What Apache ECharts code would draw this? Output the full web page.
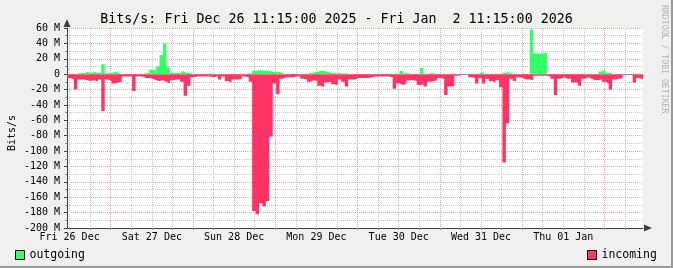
<!DOCTYPE html>
<html><head><meta charset="utf-8">
<script src="https://cdn.jsdelivr.net/npm/echarts@6/dist/echarts.min.js"></script>
<style>html,body{margin:0;padding:0;background:#f0f0f0}#c{width:673px;height:268px}</style>
</head><body><div id="c"></div>
<script>
// hours counted from Fri 26 Dec 00:00; graph starts 11:15
const startHour = 11.25;
const endHour = 179.25;
const stepHours = 1;
const dayLabels = ['Fri 26 Dec','Sat 27 Dec','Sun 28 Dec','Mon 29 Dec','Tue 30 Dec','Wed 31 Dec','Thu 01 Jan'];
const labelHours = [12, 36, 60, 84, 108, 132, 156];
// grid every 6 hours starting at 12:00 Dec 26 (every 4th one is a midnight)
const gridHours = [12,18,24,30,36,42,48,54,60,66,72,78,84,90,96,102,108,114,120,126,132,138,144,150,156,162,168,174];
const yMin = -200, yMax = 60, yStep = 20;

// Mbit/s, one value per hour
const outgoing = [
 0, 0, 0.5, 1.3, 1.3, 3, 1.3, 3, 1.5, 1.5,
 13, 1.3, 1.5, 3, 2, 0, 0, 0, 0, 0,
 0, 0, 1.3, 1.3, 6, 4, 10, 25, 40, 9,
 1.5, 1.5, 1.5, 4, 1.5, 1.5, 0, 0, 0, 0,
 0, 1.5, 0, 0.5, 0, 0.5, 0, 0, 0, 0,
 0.5, 0, 1, 1.3, 4, 5, 5, 4.5, 4, 3.5,
 2, 3, 1, 0, 0, 0, 0, 0, 0.5, 1,
 1.3, 2, 3, 4, 4, 3, 1.5, 1.3, 1.3, 1.3,
 1, 0.5, 0, 0, 0, 0, 0, 0, 0, 0,
 0, 0, 0, 0, 0, 1, 0.5, 4, 1.3, 1,
 0, 0, 0, 8, 0.5, 1.3, 1.3, 0, 0, 1,
 0, 0, 0, 0, 0, 1, 0, 0, 0, 0,
 2.5, 0, 0, 0, 1, 0, 1, 2, 2, 0.5,
 0.5, 0, 0, 0, 0, 58, 27, 27, 27, 28,
 0, 0, 0, 0, 0, 0, 0, 0, 0, 0,
 0.5, 0.5, 0.5, 0, 0, 3.5, 6, 2, 0.5, 0,
 0, 0, 0, 0, 0, 0, 1, 0
];
const incoming = [
 -5, -7, -20, -7, -7, -8, -9, -8, -10, -7,
 -48, -7, -9, -12, -11, -10, -3, -3, -3, -22,
 -3, -3, -5, -5, -6, -8, -9, -8, -10, -12,
 -8, -7, -7, -10, -28, -15, -4, -3, -3, -3,
 -3, -3, -4, -3, -7, -3, -9, -11, -7, -7,
 -6, -3, -4, -10, -178, -182, -168, -172, -165, -81,
 -12, -26, -6, -4, -4, -4, -3, -3, -6, -7,
 -10, -8, -9, -15, -17, -11, -10, -13, -14, -7,
 -10, -16, -7, -7, -5, -5, -5, -5, -4, -3,
 -3, -3, -3, -3, -4, -19, -12, -14, -12, -8,
 -8, -9, -14, -13, -16, -10, -9, -8, -5, -6,
 -27, -16, -15, -2, -1, -1, -1, -4, -5, -12,
 -5, -12, -6, -9, -11, -8, -17, -115, -64, -6,
 -9, -4, -5, -7, -7, -8, -2, -2, -2, -2,
 -3, -6, -27, -6, -4, -6, -6, -11, -11, -15,
 -6, -4, -6, -8, -8, -7, -10, -12, -20, -7,
 -6, -6, -1, -1, -1, -11, -5, -7
];

const MONO = "'DejaVu Sans Mono', monospace";
const GREEN = '#33ff66', RED = '#ff3366';
const MINOR = '#c8c8c8', MAJOR = '#f4a0a0';

// step points: each value holds from its hour until the next; last value closes at endHour
function stepData(vals) {
  const pts = vals.map((v, i) => [startHour + i * stepHours, v]);
  pts.push([startHour + vals.length * stepHours, vals[vals.length - 1]]);
  return pts;
}
function areaSeries(name, vals, color) {
  return {name, type: 'line', step: 'end', symbol: 'none', showSymbol: false, silent: true,
          itemStyle: {color}, lineStyle: {width: 0, color}, areaStyle: {color, opacity: 1, origin: 0},
          data: stepData(vals)};
}

const chart = echarts.init(document.getElementById('c'), null, {renderer: 'canvas', width: 673, height: 268});
chart.setOption({
  animation: false,
  backgroundColor: '#f0f0f0',
  title: {text: 'Bits/s: Fri Dec 26 11:15:00 2025 - Fri Jan  2 11:15:00 2026', left: 'center', top: 13, padding: 0,
          textStyle: {fontFamily: MONO, fontSize: 13.3, fontWeight: 'normal', color: '#000'}},
  grid: {left: 67, right: 30, top: 28, bottom: 40, show: true, backgroundColor: '#ffffff', borderWidth: 0,
         containLabel: false, outerBoundsMode: 'none'},
  legend: [
    {data: [{name: 'outgoing', icon: 'rect', itemStyle: {color: GREEN, borderColor: '#000', borderWidth: 1}}], left: 15, top: 249,
     itemWidth: 9, itemHeight: 9, padding: 0, selectedMode: false, textStyle: {fontFamily: MONO, fontSize: 11.5, color: '#000'}},
    {data: [{name: 'incoming', icon: 'rect', itemStyle: {color: RED, borderColor: '#000', borderWidth: 1}}], left: 587, top: 249,
     itemWidth: 9, itemHeight: 9, padding: 0, selectedMode: false, textStyle: {fontFamily: MONO, fontSize: 11.5, color: '#000'}}
  ],
  xAxis: {type: 'value', min: startHour, max: endHour, position: 'bottom',
     axisLine: {onZero: false, lineStyle: {color: '#404040'}, symbol: ['none', 'triangle'], symbolSize: [7, 8], symbolOffset: [0, 5]},
     axisTick: {show: true, customValues: gridHours, length: 2, lineStyle: {color: '#909090'}},
     axisLabel: {customValues: labelHours, formatter: v => dayLabels[labelHours.indexOf(Math.round(v))] || '',
                 fontFamily: MONO, fontSize: 10, color: '#000', margin: 4},
     splitLine: {show: true, lineStyle: {color: [MINOR, MINOR, MAJOR, MINOR], type: [1, 1]}}},
  yAxis: {type: 'value', min: yMin, max: yMax, interval: yStep,
    name: 'Bits/s', nameLocation: 'middle', nameGap: 50, nameMoveOverlap: false,
    nameTextStyle: {fontFamily: MONO, fontSize: 10, color: '#000', padding: [0, 10, 0, 0]},
    axisLine: {show: true, onZero: false, lineStyle: {color: '#404040'}, symbol: ['none', 'triangle'], symbolSize: [7, 8], symbolOffset: [0, 5]},
    axisTick: {show: true, length: 3, lineStyle: {color: '#404040'}},
    minorTick: {show: true, splitNumber: 2, length: 2, lineStyle: {color: '#909090'}},
    axisLabel: {formatter: v => v === 0 ? '0' : v + ' M', fontFamily: MONO, fontSize: 10, color: '#000', margin: 7},
    splitLine: {show: true, lineStyle: {color: MAJOR, type: [1, 1]}},
    minorSplitLine: {show: true, lineStyle: {color: MINOR, type: [1, 1]}}},
  series: [
    areaSeries('incoming', incoming, RED),
    areaSeries('outgoing', outgoing, GREEN)
  ],
  graphic: [
    {type: 'text', x: 668, y: 5, rotation: -Math.PI / 2, originX: 0, originY: 0,
     style: {text: 'RRDTOOL / TOBI OETIKER', font: "8.2px 'DejaVu Sans Mono'", fill: '#b4b4b4'}},
    {type: 'rect', shape: {x: 671, y: 0, width: 2, height: 268}, style: {fill: '#9a9a9a'}},
    {type: 'rect', shape: {x: 0, y: 266, width: 673, height: 2}, style: {fill: '#9a9a9a'}}
  ]
});
</script></body></html>
